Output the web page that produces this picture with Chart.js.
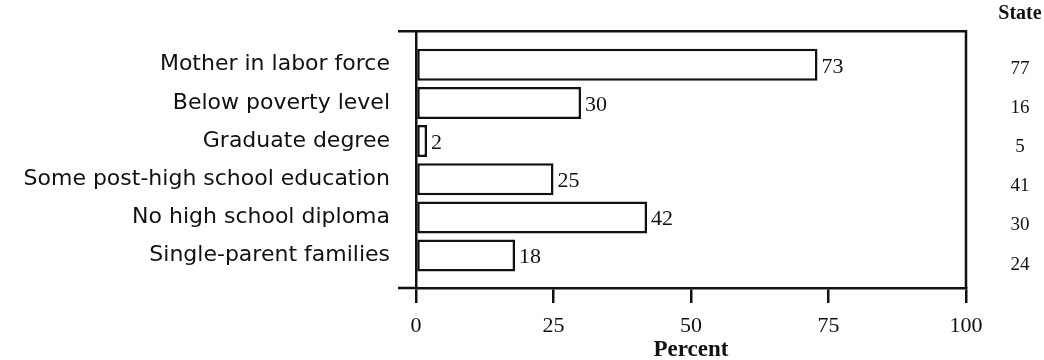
<!DOCTYPE html>
<html>
<head>
<meta charset="utf-8">
<script src="https://cdn.jsdelivr.net/npm/chart.js@4.4.1/dist/chart.umd.min.js"></script>
<style>
  html, body { margin: 0; padding: 0; background: #fff; }
</style>
</head>
<body>
<canvas id="grafico" width="1044" height="360"></canvas>
<script>
const categorias = [
  'Mother in labor force',
  'Below poverty level',
  'Graduate degree',
  'Some post-high school education',
  'No high school diploma',
  'Single-parent families'
];
const valores = [73, 30, 2, 25, 42, 18];
const valoresEstado = [77, 16, 5, 41, 30, 24];
const ticksX = [0, 25, 50, 75, 100];
const tituloX = 'Percent';
const tituloEstado = 'State';

const tinta = '#111';
const serif = '"Liberation Serif", "Times New Roman", serif';

// marco superior/derecho, etiquetas de valor y columna "State"
const marco = {
  id: 'marco',
  afterDraw(chart) {
    const ctx = chart.ctx;
    const a = chart.chartArea;
    ctx.save();
    ctx.strokeStyle = tinta;
    ctx.lineWidth = 2.5;
    ctx.beginPath();
    ctx.moveTo(a.left - 18, a.top);
    ctx.lineTo(a.right, a.top);
    ctx.lineTo(a.right, a.bottom);
    ctx.moveTo(a.left - 18, a.bottom);
    ctx.lineTo(a.left, a.bottom);
    ctx.stroke();

    ctx.fillStyle = tinta;
    ctx.textBaseline = 'middle';
    ctx.textAlign = 'left';
    ctx.font = '22px ' + serif;
    chart.getDatasetMeta(0).data.forEach((bar, i) => {
      ctx.fillText(valores[i], bar.x + 4, bar.y + 2);
    });

    const xs = a.right + 54;
    ctx.textAlign = 'center';
    ctx.font = 'bold 20px ' + serif;
    ctx.fillText(tituloEstado, xs, 14);
    ctx.font = '19px ' + serif;
    valoresEstado.forEach((v, i) => {
      ctx.fillText(v, xs, chart.scales.y.getPixelForValue(i) + 4 + i);
    });
    ctx.restore();
  }
};

new Chart(document.getElementById('grafico'), {
  type: 'bar',
  data: {
    datasets: [{
      data: valores.map((v, i) => ({ x: v, y: i })),
      backgroundColor: '#fff',
      borderColor: tinta,
      borderWidth: 2.5,
      borderSkipped: false,
      barPercentage: 0.84,
      categoryPercentage: 1
    }]
  },
  plugins: [marco],
  options: {
    animation: false,
    responsive: false,
    maintainAspectRatio: false,
    indexAxis: 'y',
    layout: { padding: { left: 10, right: 78, top: 25, bottom: 0 } },
    plugins: {
      legend: { display: false },
      tooltip: { enabled: false }
    },
    scales: {
      x: {
        type: 'linear',
        min: 0,
        max: 100,
        bounds: 'data',
        afterBuildTicks: (scale) => { scale.ticks = ticksX.map(v => ({ value: v })); },
        afterFit: (scale) => { scale.height = 72; },
        grid: { display: true, drawOnChartArea: false, drawTicks: true, tickLength: 15, color: tinta, lineWidth: 2.5 },
        border: { display: true, color: tinta, width: 2.5 },
        ticks: { color: tinta, padding: 10, font: { family: serif, size: 22 } },
        title: {
          display: true,
          text: tituloX,
          color: tinta,
          padding: { top: 0, bottom: 0 },
          font: { family: serif, size: 23, weight: 'bold', lineHeight: 0.9 }
        }
      },
      y: {
        type: 'linear',
        reverse: true,
        offset: false,
        min: -0.88,
        max: 5.85,
        bounds: 'data',
        afterBuildTicks: (scale) => { scale.ticks = categorias.map((c, i) => ({ value: i })); },
        afterFit: (scale) => { scale.width = 406; },
        grid: { display: false, offset: false },
        border: { display: true, color: tinta, width: 2.5 },
        ticks: {
          autoSkip: false,
          padding: 18,
          color: tinta,
          font: { family: '"DejaVu Sans", sans-serif', size: 22 },
          callback: (v) => categorias[v]
        }
      }
    }
  }
});
</script>
</body>
</html>
